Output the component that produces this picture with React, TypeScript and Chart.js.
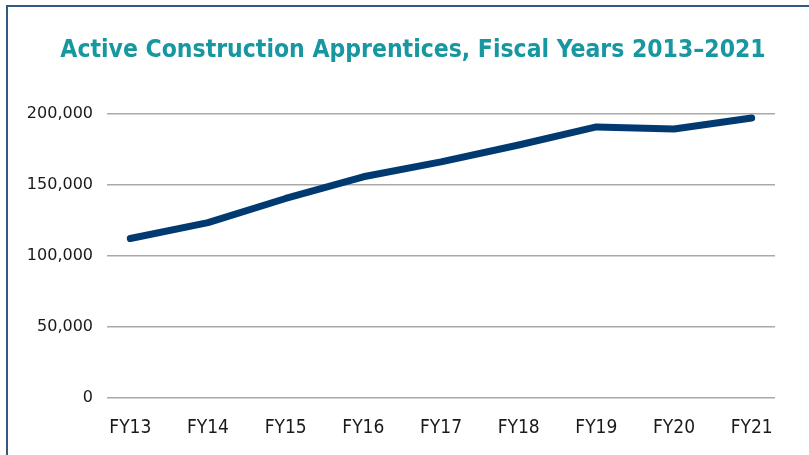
import React, { useEffect, useRef } from 'react';
import { Chart, registerables } from 'chart.js';

Chart.register(...registerables);

const categories = ['FY13', 'FY14', 'FY15', 'FY16', 'FY17', 'FY18', 'FY19', 'FY20', 'FY21'];
const apprentices = [112300, 123500, 140500, 155800, 166300, 178200, 190900, 189500, 197200];
const yTicks = [0, 50000, 100000, 150000, 200000];
const titleText = 'Active Construction Apprentices, Fiscal Years 2013\u20132021';

const NARROW = "'Liberation Sans Narrow', 'DejaVu Sans Condensed', 'Roboto', sans-serif";

export default function App() {
  const ref = useRef<HTMLCanvasElement | null>(null);

  useEffect(() => {
    if (!ref.current) return;
    const chart = new Chart(ref.current, {
      type: 'line',
      data: {
        datasets: [
          {
            label: 'Active apprentices',
            data: apprentices.map((v, i) => ({ x: i, y: v })),
            borderColor: '#003a70',
            borderWidth: 7,
            borderCapStyle: 'round',
            borderJoinStyle: 'round',
            pointRadius: 0,
            tension: 0,
            fill: false,
            yAxisID: 'y',
          },
        ],
      },
      options: {
        animation: false,
        responsive: true,
        maintainAspectRatio: false,
        layout: { padding: 0 },
        plugins: {
          legend: { display: false },
          tooltip: { enabled: false },
          title: {
            display: true,
            text: titleText,
            color: '#1797a0',
            font: { family: NARROW, size: 24.5, weight: 'bold' },
            padding: { top: 29, bottom: 48.6 },
          },
        },
        scales: {
          x: {
            type: 'linear',
            min: -0.3,
            max: 8.3,
            grid: { display: false },
            border: { display: false },
            afterBuildTicks: (scale: any) => {
              scale.ticks = categories.map((_, i) => ({ value: i }));
            },
            afterFit: (scale: any) => {
              scale.height = 57;
            },
            ticks: {
              autoSkip: false,
              maxRotation: 0,
              padding: 11,
              color: '#1a1a1a',
              font: { family: NARROW, size: 19 },
              callback: (v: any) => categories[Math.round(Number(v))] ?? '',
            },
          },
          y: {
            position: 'left',
            min: 0,
            max: 200000,
            grid: { color: '#a9a9a9', lineWidth: 1.5, drawTicks: false },
            border: { display: false },
            afterBuildTicks: (scale: any) => {
              scale.ticks = yTicks.map((v) => ({ value: v }));
            },
            afterFit: (scale: any) => {
              scale.width = 99;
            },
            ticks: {
              padding: 14,
              color: '#1a1a1a',
              font: { family: "'DejaVu Sans', sans-serif", size: 16 },
              callback: (v: any) => Number(v).toLocaleString('en-US'),
            },
          },
          yRightSpace: {
            type: 'linear',
            position: 'right',
            min: 0,
            max: 200000,
            grid: { display: false, drawTicks: false },
            border: { display: false },
            ticks: { display: false },
            afterFit: (scale: any) => {
              scale.width = 43;
            },
          },
        },
      },
    });
    return () => chart.destroy();
  }, []);

  return (
    <div
      style={{
        position: 'fixed',
        left: 0,
        top: 0,
        width: 809,
        height: 455,
        overflow: 'hidden',
        background: '#ffffff',
      }}
    >
      <div
        style={{
          position: 'absolute',
          left: 6,
          top: 5,
          width: 830,
          height: 480,
          borderLeft: '2px solid #34597f',
          borderTop: '2px solid #34597f',
          boxSizing: 'border-box',
        }}
      />
      <div style={{ position: 'absolute', left: 8, top: 7, width: 810, height: 448 }}>
        <canvas ref={ref} />
      </div>
    </div>
  );
}
